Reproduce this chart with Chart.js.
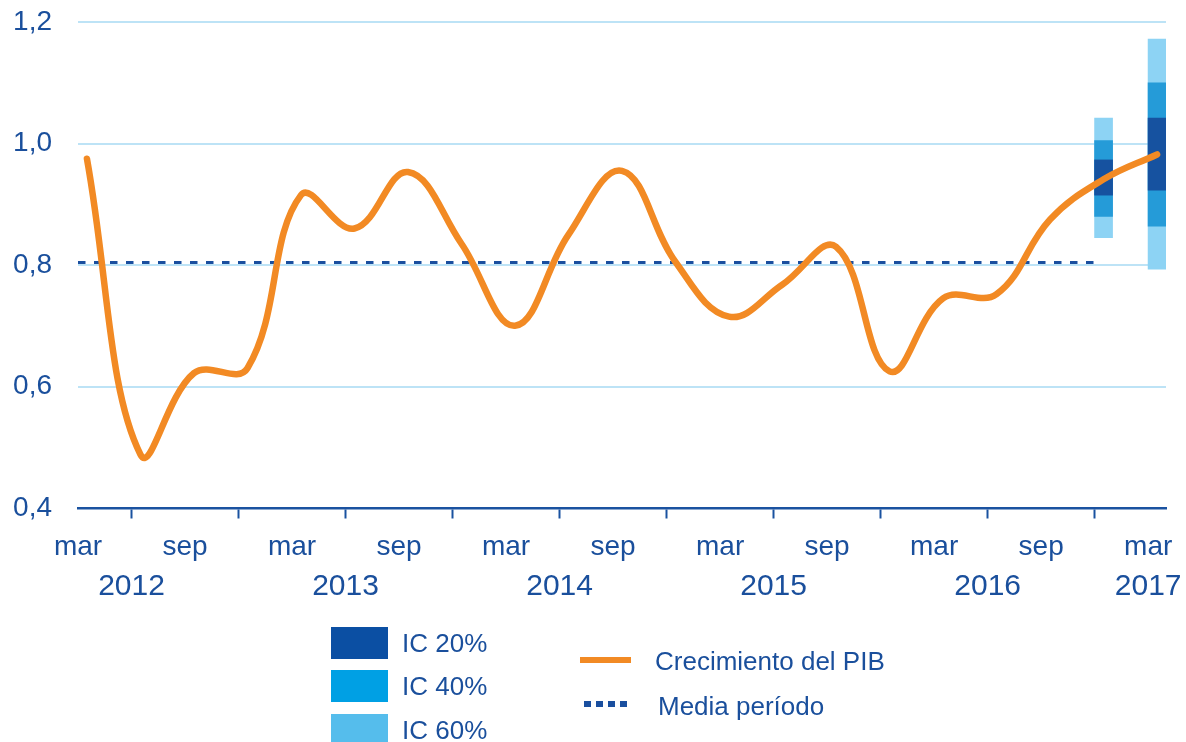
<!DOCTYPE html>
<html>
<head>
<meta charset="utf-8">
<script src="https://cdn.jsdelivr.net/npm/chart.js@4/dist/chart.umd.min.js"></script>
<style>
  body { margin: 0; background: #fff; font-family: "Liberation Sans", Arial, sans-serif; }
  #wrap { position: relative; width: 1186px; height: 742px; overflow: hidden; }
  #myChart { position: absolute; left: 0; top: 0; }
  .sq { position: absolute; left: 331px; width: 57px; height: 32px; }
  .txt { position: absolute; font-size: 26px; line-height: 32px; color: #1a4f9c; white-space: nowrap; }
  .dot { position: absolute; width: 7px; height: 6px; background: #1a4f9f; }
</style>
</head>
<body>
<div id="wrap">
  <canvas id="myChart" width="1186" height="742"></canvas>

  <div class="sq" style="top:627px;background:#0b4fa3"></div>
  <div class="txt" style="left:402px;top:627px">IC 20%</div>
  <div class="sq" style="top:670px;background:#00a0e4"></div>
  <div class="txt" style="left:402px;top:670px">IC 40%</div>
  <div class="sq" style="top:714px;background:#55bdec"></div>
  <div class="txt" style="left:402px;top:714px">IC 60%</div>

  <div style="position:absolute;left:580px;top:657px;width:51px;height:6px;background:#f28a24"></div>
  <div class="txt" style="left:655px;top:645px">Crecimiento del PIB</div>
  <div class="dot" style="left:584px;top:701px"></div>
  <div class="dot" style="left:596px;top:701px"></div>
  <div class="dot" style="left:608px;top:701px"></div>
  <div class="dot" style="left:620px;top:701px"></div>
  <div class="txt" style="left:658px;top:690px">Media período</div>
</div>

<script>
// months counted from march 2012
const pibMonth = [0.5, 3.5, 6.5, 9.5, 12.5, 15.5, 18.5, 21.5, 24.5, 27.5, 30.5,
  33.5, 36.5, 39.5, 42.5, 45.5, 48.5, 51.5, 54.5, 57.5, 60.5];
const pibValues = [0.975, 0.488, 0.622, 0.63, 0.915, 0.86, 0.953, 0.835, 0.70, 0.85, 0.955,
  0.805, 0.715, 0.768, 0.83, 0.625, 0.745, 0.752, 0.875, 0.941, 0.982];

const mediaMonth = [0, 57];
const mediaValue = 0.804;

const icMonth = [57.5, 60.5];
const ic20 = [[0.915, 0.973], [0.923, 1.042]];
const ic40 = [[0.88, 1.005], [0.864, 1.10]];
const ic60 = [[0.845, 1.042], [0.793, 1.172]];

const tickMonths = [0, 6, 12, 18, 24, 30, 36, 42, 48, 54, 60];
const tickLabels = ["mar", "sep", "mar", "sep", "mar", "sep", "mar", "sep", "mar", "sep", "mar"];
const yearMonths = [3, 15, 27, 39, 51, 60];
const yearLabels = ["2012", "2013", "2014", "2015", "2016", "2017"];
const yTicks = [0.4, 0.6, 0.8, 1.0, 1.2];

const blue = "#1a4f9c";
Chart.defaults.font.family = '"Liberation Sans", Arial, sans-serif';
Chart.defaults.color = blue;

const toPoints = (xs, ys) => xs.map((x, i) => ({ x: x, y: ys[i] }));

const barSet = (label, values, color, order) => ({
  type: "bar",
  label: label,
  data: toPoints(icMonth, values),
  backgroundColor: color,
  barThickness: 18,
  grouped: false,
  order: order,
  xAxisID: "x",
  yAxisID: "y",
});

const drawGraph = () => {
  let ctx = document.getElementById("myChart").getContext("2d");
  let myChart = new Chart(ctx, {
    type: "line",
    data: {
      datasets: [
        {
          label: "Crecimiento del PIB",
          data: toPoints(pibMonth, pibValues),
          borderColor: "#f28a24",
          borderWidth: 6.5,
          borderCapStyle: "round",
          tension: 0.4,
          pointRadius: 0,
          order: 0,
          xAxisID: "x",
          yAxisID: "y",
        },
        {
          label: "Media período",
          data: mediaMonth.map((m) => ({ x: m, y: mediaValue })),
          borderColor: "#1a4f9f",
          borderWidth: 3,
          borderDash: [7.5, 8.5],
          pointRadius: 0,
          order: 5,
          xAxisID: "x",
          yAxisID: "y",
        },
        barSet("IC 60%", ic60, "#8dd3f4", 3),
        barSet("IC 40%", ic40, "#259bd8", 2),
        barSet("IC 20%", ic20, "#1652a0", 1),
      ],
    },
    options: {
      responsive: false,
      animation: false,
      layout: { padding: { top: 22, right: 20, bottom: 129.5, left: 0 } },
      plugins: { legend: { display: false }, tooltip: { enabled: false } },
      scales: {
        x: {
          type: "linear",
          min: 0,
          max: 61,
          offset: false,
          position: "bottom",
          weight: 0,
          afterBuildTicks: (s) => { s.ticks = tickMonths.map((v) => ({ value: v })); },
          // long tick box, only the first 9px of each tick is painted
          grid: {
            drawOnChartArea: false, drawTicks: true, tickLength: 25,
            tickBorderDash: [9, 60], tickColor: "#1a52a0", tickWidth: 2,
          },
          border: { color: "#1a52a0", width: 2.5 },
          ticks: {
            autoSkip: false, maxRotation: 0, padding: 0,
            font: { size: 28, lineHeight: 1 },
            callback: (v, i) => tickLabels[i],
          },
        },
        x2: {
          type: "linear",
          min: 0,
          max: 61,
          offset: false,
          position: "bottom",
          weight: 1,
          afterBuildTicks: (s) => { s.ticks = yearMonths.map((v) => ({ value: v })); },
          grid: { display: false, drawTicks: false },
          border: { display: false },
          ticks: {
            autoSkip: false, maxRotation: 0, padding: 4,
            font: { size: 30, lineHeight: 1.45 },
            callback: (v, i) => yearLabels[i],
          },
        },
        y: {
          min: 0.4,
          max: 1.2,
          afterBuildTicks: (s) => { s.ticks = yTicks.map((v) => ({ value: v })); },
          afterFit: (s) => { s.width = 78; },
          grid: {
            color: (c) => (c.tick && c.tick.value === 0.4 ? "rgba(0,0,0,0)" : "#bde3f6"),
            lineWidth: 2,
            drawTicks: true,
            tickLength: 26,
            tickColor: "rgba(0,0,0,0)",
          },
          border: { display: false },
          ticks: {
            padding: 0,
            font: { size: 28 },
            callback: (v) => v.toFixed(1).replace(".", ","),
          },
        },
      },
    },
  });
};

drawGraph();
</script>
</body>
</html>
